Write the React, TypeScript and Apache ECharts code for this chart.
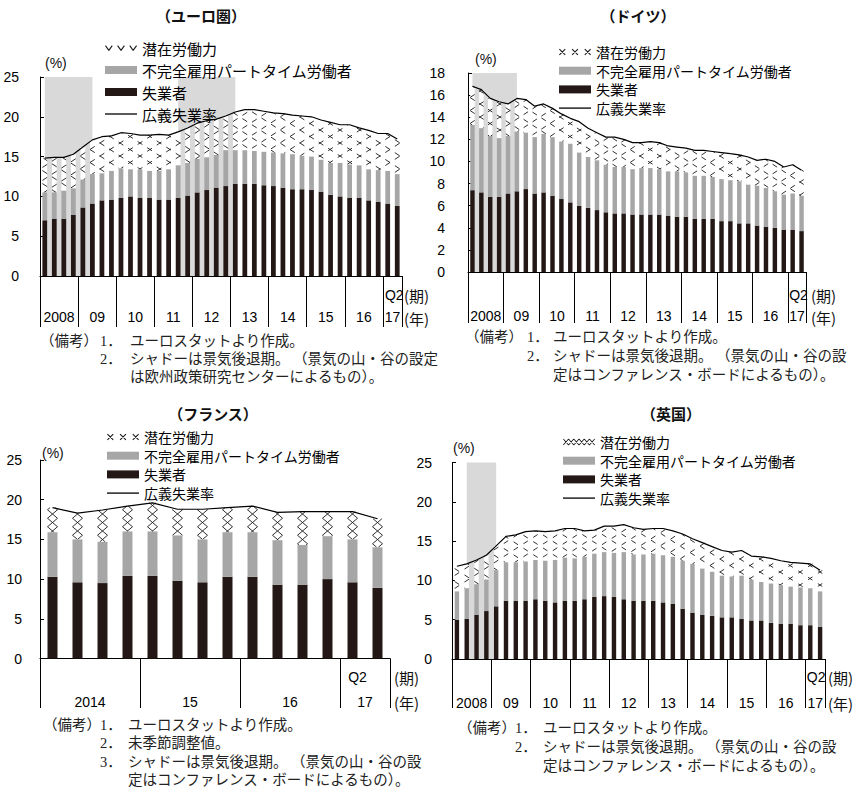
import React, { useEffect, useRef } from 'react';
import * as echarts from 'echarts';

// ---------- categories ----------
function quarters(startYear: number, endYear: number, lastQ: number): string[] {
  const out: string[] = [];
  for (let y = startYear; y <= endYear; y++) {
    const qMax = y === endYear ? lastQ : 4;
    for (let q = 1; q <= qMax; q++) out.push(`${y}Q${q}`);
  }
  return out;
}

const euroQuarters = quarters(2008, 2017, 2);
const germanyQuarters = quarters(2008, 2017, 2);
const franceQuarters = quarters(2014, 2017, 2);
const ukQuarters = quarters(2008, 2017, 2);

// ---------- series values (%) ----------
const euroUnemployed = [7.0, 7.2, 7.2, 7.7, 8.6, 9.1, 9.5, 9.6, 9.8, 10.0, 9.8, 9.8, 9.6, 9.6, 9.8, 10.1, 10.5, 10.8, 11.1, 11.3, 11.6, 11.6, 11.6, 11.4, 11.3, 11.1, 10.9, 10.9, 10.8, 10.6, 10.2, 10.0, 9.8, 9.8, 9.5, 9.3, 9.1, 8.8];
const euroPartTime = [3.5, 3.3, 3.5, 3.3, 3.5, 3.7, 3.4, 3.6, 3.7, 3.4, 3.6, 3.4, 3.6, 3.8, 4.1, 4.1, 4.2, 4.1, 4.1, 4.5, 4.2, 4.2, 4.1, 4.2, 4.2, 4.3, 4.4, 4.2, 4.2, 4.0, 4.0, 4.2, 4.2, 4.1, 3.9, 4.0, 4.1, 4.0];
const euroBroad = [14.8, 14.9, 14.9, 15.3, 16.2, 17.1, 17.5, 17.6, 18.0, 17.9, 17.7, 17.7, 17.8, 17.7, 18.1, 18.6, 19.2, 19.5, 19.7, 20.1, 20.6, 20.9, 20.9, 20.7, 20.5, 20.4, 20.2, 20.1, 20.0, 19.6, 19.3, 19.0, 19.0, 18.6, 18.3, 17.9, 17.9, 17.2];
const euroRecessions: [string, string][] = [['2008Q1', '2009Q2'], ['2011Q3', '2013Q1']];

const germanyUnemployed = [7.4, 7.2, 6.8, 6.8, 7.1, 7.3, 7.5, 7.1, 7.2, 6.9, 6.6, 6.3, 6.0, 5.8, 5.6, 5.4, 5.3, 5.3, 5.2, 5.2, 5.2, 5.2, 5.1, 5.0, 5.0, 4.8, 4.8, 4.8, 4.6, 4.6, 4.4, 4.4, 4.2, 4.1, 4.0, 3.8, 3.8, 3.7];
const germanyPartTime = [5.9, 5.8, 5.5, 5.3, 5.2, 5.4, 5.1, 5.1, 5.3, 5.3, 5.2, 5.3, 4.8, 4.6, 4.5, 4.3, 4.2, 4.2, 4.1, 4.2, 4.2, 4.1, 4.0, 4.1, 4.0, 3.9, 3.9, 3.8, 3.8, 3.7, 3.8, 3.5, 3.6, 3.5, 3.3, 3.2, 3.3, 3.2];
const germanyBroad = [16.8, 16.5, 15.7, 15.4, 15.2, 15.7, 15.6, 15.0, 15.2, 14.8, 14.3, 13.9, 13.6, 13.0, 12.6, 12.2, 12.2, 12.0, 11.7, 11.7, 11.8, 11.7, 11.4, 11.3, 11.2, 11.0, 11.0, 10.9, 10.8, 10.7, 10.6, 10.4, 10.1, 10.2, 10.0, 9.5, 9.7, 9.2];
const germanyRecessions: [string, string][] = [['2008Q1', '2009Q2']];

const franceUnemployed = [10.3, 9.6, 9.5, 10.4, 10.4, 9.8, 9.6, 10.3, 10.3, 9.3, 9.3, 10.0, 9.6, 8.9];
const francePartTime = [5.6, 5.4, 5.2, 5.6, 5.6, 5.7, 5.4, 5.6, 5.6, 5.6, 5.0, 5.4, 5.4, 5.1];
const franceBroad = [19.0, 18.3, 18.7, 19.2, 19.6, 18.8, 18.8, 19.0, 19.2, 18.4, 18.5, 18.5, 18.5, 17.6];
const franceRecessions: [string, string][] = [];

const ukUnemployed = [5.0, 5.1, 5.6, 6.1, 6.7, 7.4, 7.4, 7.4, 7.6, 7.4, 7.2, 7.4, 7.4, 7.6, 7.9, 8.0, 7.9, 7.6, 7.4, 7.4, 7.4, 7.2, 7.0, 6.4, 5.9, 5.6, 5.5, 5.3, 5.3, 5.1, 4.9, 4.9, 4.6, 4.5, 4.5, 4.3, 4.3, 4.1];
const ukPartTime = [3.6, 3.9, 3.9, 4.0, 4.6, 4.9, 4.9, 5.0, 5.0, 5.1, 5.4, 5.5, 5.4, 5.4, 5.5, 5.6, 5.6, 6.0, 5.9, 5.9, 6.0, 6.0, 6.0, 6.1, 6.2, 5.9, 5.6, 5.3, 5.2, 5.5, 5.2, 4.9, 5.0, 4.9, 4.7, 4.8, 4.7, 4.5];
const ukBroad = [11.8, 12.1, 12.6, 13.2, 14.4, 15.6, 15.8, 16.2, 16.3, 16.2, 16.3, 16.6, 16.6, 16.3, 16.4, 16.9, 16.9, 17.1, 16.7, 16.5, 16.6, 16.6, 16.3, 15.9, 15.3, 14.8, 14.3, 13.8, 13.6, 13.8, 13.1, 13.0, 12.8, 12.5, 12.3, 12.2, 12.1, 11.3];
const ukRecessions: [string, string][] = [['2008Q2', '2009Q1']];

// ---------- texts ----------
const NAME_POTENTIAL = '潜在労働力';
const NAME_PARTTIME = '不完全雇用パートタイム労働者';
const NAME_UNEMPLOYED = '失業者';
const NAME_BROAD = '広義失業率';

type NoteRow = { head?: string; num?: string; body: string };

const notesEuro: NoteRow[] = [
  { head: '（備考）', num: '1．', body: 'ユーロスタットより作成。' },
  { num: '2．', body: 'シャドーは景気後退期。 （景気の山・谷の設定' },
  { body: 'は欧州政策研究センターによるもの）。' },
];
const notesBoard: NoteRow[] = [
  { head: '（備考）', num: '1．', body: 'ユーロスタットより作成。' },
  { num: '2．', body: 'シャドーは景気後退期。 （景気の山・谷の設' },
  { body: '定はコンファレンス・ボードによるもの）。' },
];
const notesFrance: NoteRow[] = [
  { head: '（備考）', num: '1．', body: 'ユーロスタットより作成。' },
  { num: '2．', body: '未季節調整値。' },
  { num: '3．', body: 'シャドーは景気後退期。 （景気の山・谷の設' },
  { body: '定はコンファレンス・ボードによるもの）。' },
];

// ---------- styles ----------
const FONT_NUM = "'Liberation Sans', Arial, sans-serif";
const FONT_JP = "'Noto Sans CJK JP', 'Noto Sans', sans-serif";
const FONT_NOTE = "'Liberation Serif', 'Noto Sans CJK JP', serif";
const C_BLACK = '#231815';
const C_GRAY = '#a6a6a6';
const C_SHADE = '#d9d9d9';

// filled outline of thin strokes, used as legend icon path
function strokePath(segs: number[][], t: number): string {
  return (
    'path://' +
    segs
      .map(([ax, ay, bx, by]) => {
        const dx = bx - ax;
        const dy = by - ay;
        const len = Math.hypot(dx, dy);
        const nx = (-dy / len) * t;
        const ny = (dx / len) * t;
        const f = (v: number) => v.toFixed(2);
        return `M${f(ax + nx)},${f(ay + ny)}L${f(bx + nx)},${f(by + ny)}L${f(bx - nx)},${f(by - ny)}L${f(ax - nx)},${f(ay - ny)}Z`;
      })
      .join('')
  );
}

const iconVees = strokePath(
  [0, 12.5, 25].flatMap((x) => [
    [x, 0, x + 3.5, 5],
    [x + 3.5, 5, x + 7, 0],
  ]),
  0.55
);
const iconCrosses = strokePath(
  [3, 16, 29].flatMap((c) => [
    [c - 3, 0, c + 3, 6],
    [c - 3, 6, c + 3, 0],
  ]),
  0.55
);
const iconChain = (() => {
  const segs: number[][] = [];
  const step = 32 / 6;
  for (let k = 0; k < 6; k++) {
    const xa = k * step;
    const xb = (k + 1) * step;
    const up = k % 2 === 0;
    segs.push([xa, up ? 0 : 6, xb, up ? 6 : 0]);
    segs.push([xa, up ? 6 : 0, xb, up ? 0 : 6]);
  }
  return strokePath(segs, 0.45);
})();
// plain rule for the line series entry
const iconRule = 'path://M0,0L32,0L32,1.3L0,1.3Z';

type Pattern = { P: number; Q: number; local: boolean };

// bar filled with a diamond lattice, spanning from value lo up to value hi
function makeRenderItem(ratio: number, pat: Pattern) {
  return (params: any, api: any) => {
    const i = api.value(0);
    const lo = api.value(1);
    const hi = api.value(2);
    const base = api.coord([i, lo]);
    const top = api.coord([i, hi]);
    const band = api.size([1, 0])[0];
    const w = band * ratio;
    const x1 = base[0] - w / 2;
    const x2 = base[0] + w / 2;
    const y1 = top[1];
    const y2 = base[1];
    if (y2 - y1 <= 0) return null;
    const x0 = pat.local ? base[0] : 0;
    const y0 = pat.local ? api.coord([i, 0])[1] : 0;
    const { P, Q } = pat;
    const children: any[] = [
      { type: 'rect', shape: { x: x1, y: y1, width: w, height: y2 - y1 }, style: { fill: '#ffffff' } },
    ];
    const segStyle = { stroke: '#1a1a1a', lineWidth: 0.9 };
    const a1 = (x1 - x0) / P;
    const a2 = (x2 - x0) / P;
    const b1 = (y1 - y0) / Q;
    const b2 = (y2 - y0) / Q;
    for (let n = Math.ceil(a1 + b1); n <= Math.floor(a2 + b2); n++) {
      const ya = Math.max(y1, y0 + Q * (n - a2));
      const yb = Math.min(y2, y0 + Q * (n - a1));
      if (yb - ya < 0.3) continue;
      const xa = x0 + P * (n - (ya - y0) / Q);
      const xb = x0 + P * (n - (yb - y0) / Q);
      children.push({ type: 'line', shape: { x1: xa, y1: ya, x2: xb, y2: yb }, style: segStyle });
    }
    for (let n = Math.ceil(a1 - b2); n <= Math.floor(a2 - b1); n++) {
      const ya = Math.max(y1, y0 + Q * (a1 - n));
      const yb = Math.min(y2, y0 + Q * (a2 - n));
      if (yb - ya < 0.3) continue;
      const xa = x0 + P * (n + (ya - y0) / Q);
      const xb = x0 + P * (n + (yb - y0) / Q);
      children.push({ type: 'line', shape: { x1: xa, y1: ya, x2: xb, y2: yb }, style: segStyle });
    }
    return { type: 'group', children };
  };
}

// recession shading: from the centre of the first quarter to the centre of the last
function makeShadeItem(yMax: number) {
  return (params: any, api: any) => {
    const s = api.coord([api.value(0), 0]);
    const e = api.coord([api.value(1), yMax]);
    return {
      type: 'rect',
      shape: { x: s[0], y: e[1], width: e[0] - s[0], height: s[1] - e[1] },
      style: { fill: C_SHADE },
    };
  };
}

// label index per year: the middle quarter of each calendar year
function yearLabels(cats: string[]): Map<number, string> {
  const byYear = new Map<string, number[]>();
  cats.forEach((c, i) => {
    const y = c.slice(0, 4);
    if (!byYear.has(y)) byYear.set(y, []);
    byYear.get(y)!.push(i);
  });
  const out = new Map<number, string>();
  let first = true;
  byYear.forEach((idx, y) => {
    out.set(idx[Math.floor((idx.length - 1) / 2)], first ? y : y.slice(2));
    first = false;
  });
  return out;
}

interface Panel {
  title: string;
  titleX: number;
  titleY: number;
  cats: string[];
  unemployed: number[];
  partTime: number[];
  broad: number[];
  recessions: [string, string][];
  grid: { left: number; top: number; width: number; height: number };
  yMax: number;
  yStep: number;
  yLabelMargin: number;
  tickLen: number;
  yearMargin: number;
  qMargin: number;
  qShift: number;
  barRatio: number;
  legendLeft: number;
  legendTop: number;
  legendGap: number;
  legendFont: number;
  icon: string;
  pattern: Pattern;
  pctX: number;
  pctY: number;
  periodX: number;
  periodY: number;
  yearY: number;
  notes: NoteRow[];
  noteHeadX: number;
  noteNumX: number;
  noteBodyX: number;
  noteY: number[];
}

const panels: Panel[] = [
  {
    title: '（ユーロ圏）', titleX: 201, titleY: 15,
    cats: euroQuarters, unemployed: euroUnemployed, partTime: euroPartTime, broad: euroBroad, recessions: euroRecessions,
    grid: { left: 40, top: 77, width: 362, height: 199 },
    yMax: 25, yStep: 5, yLabelMargin: 21, tickLen: 51, yearMargin: 34, qMargin: 12, qShift: 3, barRatio: 0.5,
    legendLeft: 105, legendTop: 40.5, legendGap: 7, legendFont: 15, icon: iconVees,
    pattern: { P: 20, Q: 13, local: false },
    pctX: 45, pctY: 63, periodX: 404, periodY: 295, yearY: 318,
    notes: notesEuro, noteHeadX: 40, noteNumX: 100, noteBodyX: 130, noteY: [341, 359, 377],
  },
  {
    title: '（ドイツ）', titleX: 638, titleY: 15,
    cats: germanyQuarters, unemployed: germanyUnemployed, partTime: germanyPartTime, broad: germanyBroad, recessions: germanyRecessions,
    grid: { left: 468, top: 73, width: 338, height: 199 },
    yMax: 18, yStep: 2, yLabelMargin: 23, tickLen: 51, yearMargin: 37, qMargin: 16, qShift: 3, barRatio: 0.5,
    legendLeft: 559, legendTop: 45, legendGap: 4.7, legendFont: 14, icon: iconCrosses,
    pattern: { P: 20, Q: 13, local: false },
    pctX: 475, pctY: 59, periodX: 811, periodY: 295, yearY: 317,
    notes: notesBoard, noteHeadX: 465, noteNumX: 527, noteBodyX: 553, noteY: [337, 356, 375],
  },
  {
    title: '（フランス）', titleX: 213, titleY: 413,
    cats: franceQuarters, unemployed: franceUnemployed, partTime: francePartTime, broad: franceBroad, recessions: franceRecessions,
    grid: { left: 40, top: 460, width: 350, height: 198.5 },
    yMax: 25, yStep: 5, yLabelMargin: 18, tickLen: 49.5, yearMargin: 36, qMargin: 11, qShift: 20, barRatio: 0.4,
    legendLeft: 107, legendTop: 430, legendGap: 4.7, legendFont: 14, icon: iconCrosses,
    pattern: { P: 10, Q: 8.5, local: true },
    pctX: 42, pctY: 453, periodX: 394, periodY: 677, yearY: 702,
    notes: notesFrance, noteHeadX: 43, noteNumX: 100, noteBodyX: 128, noteY: [725, 743, 762, 780],
  },
  {
    title: '（英国）', titleX: 671, titleY: 413,
    cats: ukQuarters, unemployed: ukUnemployed, partTime: ukPartTime, broad: ukBroad, recessions: ukRecessions,
    grid: { left: 452, top: 462.5, width: 373, height: 196.5 },
    yMax: 25, yStep: 5, yLabelMargin: 20, tickLen: 49, yearMargin: 37, qMargin: 11, qShift: 4, barRatio: 0.45,
    legendLeft: 563, legendTop: 435, legendGap: 4.7, legendFont: 14, icon: iconChain,
    pattern: { P: 20, Q: 13, local: false },
    pctX: 453, pctY: 448, periodX: 828, periodY: 677, yearY: 703,
    notes: notesBoard, noteHeadX: 458, noteNumX: 515, noteBodyX: 543, noteY: [728, 747, 766],
  },
];

function buildOption() {
  const grid: any[] = [];
  const xAxis: any[] = [];
  const yAxis: any[] = [];
  const series: any[] = [];
  const legend: any[] = [];
  const graphic: any[] = [];

  const text = (t: string, x: number, y: number, extra: any = {}) => ({
    type: 'text',
    x,
    y,
    silent: true,
    style: {
      text: t,
      fill: '#111',
      fontSize: 14,
      fontFamily: FONT_JP,
      align: 'left',
      verticalAlign: 'middle',
      ...extra,
    },
  });

  panels.forEach((p, k) => {
    const n = p.cats.length;
    const band = p.grid.width / n;
    const years = yearLabels(p.cats);

    grid.push({ ...p.grid, containLabel: false, outerBoundsMode: 'none' });

    // quarter axis with year dividers and year labels
    xAxis.push({
      type: 'category',
      gridIndex: k,
      data: p.cats,
      position: 'bottom',
      boundaryGap: true,
      axisLine: { show: true, onZero: false, lineStyle: { color: '#000', width: 1 } },
      axisTick: {
        show: true,
        interval: (i: number) => p.cats[i] !== undefined && p.cats[i].endsWith('Q1'),
        length: p.tickLen,
        lineStyle: { color: '#000', width: 1 },
      },
      axisLabel: {
        show: true,
        interval: (i: number) => years.has(i),
        formatter: (_v: string, i: number) => years.get(i) ?? '',
        margin: p.yearMargin,
        padding: [0, 0, 0, band],
        fontSize: 14,
        fontFamily: FONT_NUM,
        color: '#000',
        hideOverlap: false,
      },
      splitLine: { show: false },
    });
    // quarter name of the final period
    xAxis.push({
      type: 'category',
      gridIndex: k,
      data: p.cats,
      position: 'bottom',
      axisLine: { show: false },
      axisTick: { show: false },
      splitLine: { show: false },
      axisLabel: {
        show: true,
        interval: (i: number) => i === n - 1,
        formatter: (v: string) => v.slice(4),
        margin: p.qMargin,
        padding: [0, p.qShift * 2, 0, 0],
        fontSize: 14,
        fontFamily: FONT_NUM,
        color: '#000',
        hideOverlap: false,
      },
    });

    yAxis.push({
      type: 'value',
      gridIndex: k,
      min: 0,
      max: p.yMax,
      interval: p.yStep,
      axisLine: { show: true, lineStyle: { color: '#000', width: 1 } },
      axisTick: { show: true, inside: true, length: 4, lineStyle: { color: '#000', width: 1 } },
      axisLabel: { margin: p.yLabelMargin, fontSize: 14, fontFamily: FONT_NUM, color: '#000' },
      splitLine: { show: false },
    });

    const xi = 2 * k;
    if (p.recessions.length) {
      series.push({
        type: 'custom',
        xAxisIndex: xi,
        yAxisIndex: k,
        z: 1,
        silent: true,
        renderItem: makeShadeItem(p.yMax),
        encode: { x: [0, 1] },
        data: p.recessions.map(([a, b]) => [p.cats.indexOf(a), p.cats.indexOf(b)]),
      });
    }
    series.push({
      name: NAME_UNEMPLOYED,
      type: 'bar',
      xAxisIndex: xi,
      yAxisIndex: k,
      stack: `s${k}`,
      barWidth: `${p.barRatio * 100}%`,
      data: p.unemployed,
      itemStyle: { color: C_BLACK },
      z: 2,
      silent: true,
    });
    series.push({
      name: NAME_PARTTIME,
      type: 'bar',
      xAxisIndex: xi,
      yAxisIndex: k,
      stack: `s${k}`,
      barWidth: `${p.barRatio * 100}%`,
      data: p.partTime,
      itemStyle: { color: C_GRAY },
      z: 2,
      silent: true,
    });
    series.push({
      name: NAME_POTENTIAL,
      type: 'custom',
      xAxisIndex: xi,
      yAxisIndex: k,
      z: 2,
      silent: true,
      renderItem: makeRenderItem(p.barRatio, p.pattern),
      encode: { x: 0, y: [1, 2] },
      data: p.cats.map((_, i) => [i, +(p.unemployed[i] + p.partTime[i]).toFixed(2), p.broad[i]]),
    });
    series.push({
      name: NAME_BROAD,
      type: 'line',
      xAxisIndex: xi,
      yAxisIndex: k,
      data: p.broad,
      symbol: 'none',
      showSymbol: false,
      lineStyle: { color: '#000', width: 1.2 },
      itemStyle: { color: '#000' },
      z: 3,
      silent: true,
    });

    legend.push({
      orient: 'vertical',
      left: p.legendLeft,
      top: p.legendTop,
      padding: 0,
      itemWidth: 32,
      itemHeight: 8,
      itemGap: p.legendGap,
      selectedMode: false,
      textStyle: { fontSize: p.legendFont, color: '#000', fontFamily: FONT_JP },
      data: [
        { name: NAME_POTENTIAL, icon: p.icon, itemStyle: { color: '#1a1a1a', borderWidth: 0 } },
        { name: NAME_PARTTIME, icon: 'rect', itemStyle: { color: C_GRAY, borderWidth: 0 } },
        { name: NAME_UNEMPLOYED, icon: 'rect', itemStyle: { color: C_BLACK, borderWidth: 0 } },
        { name: NAME_BROAD, icon: iconRule, itemStyle: { color: '#000', borderWidth: 0 } },
      ],
    });

    // panel title, unit, period/year captions
    graphic.push(text(p.title, p.titleX, p.titleY, { align: 'center', fontSize: 15, fontWeight: 'bold' }));
    graphic.push(text('(%)', p.pctX, p.pctY, { fontFamily: FONT_NUM, fontSize: 14 }));
    graphic.push(text('(期)', p.periodX, p.periodY, { fontSize: 15 }));
    graphic.push(text('(年)', p.periodX, p.yearY, { fontSize: 15 }));

    // notes
    p.notes.forEach((row, r) => {
      const y = p.noteY[r];
      const st = { fontFamily: FONT_NOTE, fontSize: 14.5, fill: '#222' };
      if (row.head) graphic.push(text(row.head, p.noteHeadX, y, st));
      if (row.num) graphic.push(text(row.num, p.noteNumX, y, st));
      graphic.push(text(row.body, p.noteBodyX, y, st));
    });
  });

  return {
    animation: false,
    backgroundColor: '#ffffff',
    textStyle: { fontFamily: FONT_JP },
    grid,
    xAxis,
    yAxis,
    legend,
    series,
    graphic: { elements: graphic },
  };
}

export default function App() {
  const ref = useRef<HTMLDivElement>(null);
  useEffect(() => {
    if (!ref.current) return;
    const chart = echarts.init(ref.current, undefined, { renderer: 'svg' });
    chart.setOption(buildOption() as any);
    return () => chart.dispose();
  }, []);
  return (
    <div
      ref={ref}
      style={{ position: 'fixed', left: 0, top: 0, width: 866, height: 793, background: '#ffffff' }}
    />
  );
}
